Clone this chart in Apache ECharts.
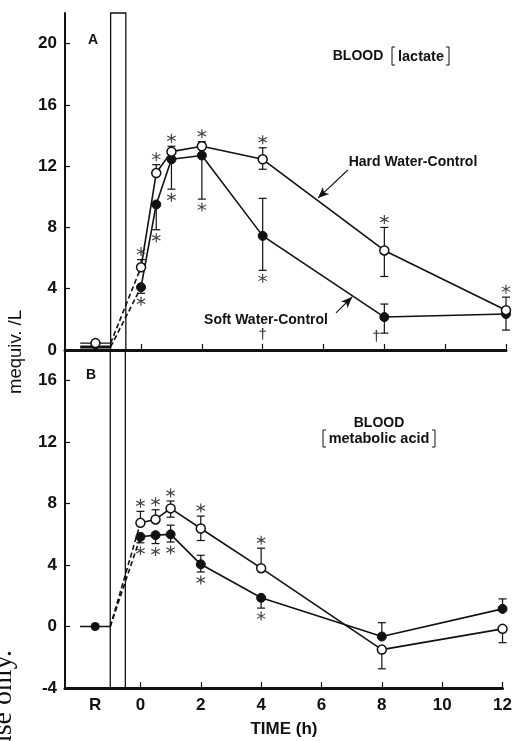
<!DOCTYPE html>
<html>
<head>
<meta charset="utf-8">
<script src="https://cdn.jsdelivr.net/npm/echarts@6/dist/echarts.min.js"></script>
<style>
  html, body { margin: 0; padding: 0; background: #fff; }
  #chart { width: 515px; height: 741px; }
</style>
</head>
<body>
<div id="chart"></div>
<script>
// Sampling times (h) after exposure
const times = [0, 0.5, 1, 2, 4, 8, 12];
const xTickValues = [0, 2, 4, 6, 8, 10, 12];
const xLabelValues = [-1.5, 0, 2, 4, 6, 8, 10, 12];
const restTime = -1.5;          // "R" resting sample
const restLineStart = -2;
const exposureStart = -1;
const exposureEnd = -0.5;
const yTicksA = [0, 4, 8, 12, 16, 20];
const yTicksB = [-4, 0, 4, 8, 12, 16];

// A: blood lactate (mequiv/L)
const hardLactateRest = 0.45;
const softLactateRest = 0.2;
const hardLactate = [5.4, 11.55, 12.95, 13.3, 12.45, 6.5, 2.6];
const softLactate = [4.1, 9.5, 12.45, 12.7, 7.45, 2.15, 2.35];
const hardLactateHigh = [5.9, 12.1, 13.3, 13.6, 13.2, 8.0, 3.45];
const hardLactateLow = [null, null, null, null, 11.8, 4.8, null];
const softLactateHigh = [null, null, null, null, 9.9, 3.0, null];
const softLactateLow = [3.7, 7.85, 10.5, 9.85, 5.2, 1.1, 1.3];
const hardLactateStar = [1, 1, 1, 1, 1, 1, 1];
const softLactateStar = [1, 1, 1, 1, 1, 0, 0];
const softLactateDagger = [0, 0, 0, 0, 1, 1, 0];

// B: blood metabolic acid (mequiv/L)
const hardAcidRest = 0;
const softAcidRest = 0;
const hardAcid = [6.75, 6.97, 7.69, 6.38, 3.8, -1.5, -0.15];
const softAcid = [5.84, 5.95, 6.0, 4.05, 1.87, -0.65, 1.15];
const hardAcidHigh = [7.5, 7.6, 8.17, 7.19, 5.1, null, null];
const hardAcidLow = [null, null, 7.12, 5.6, null, -2.75, -1.05];
const softAcidHigh = [null, null, 6.6, 4.64, null, 0.25, 1.8];
const softAcidLow = [5.45, 5.4, 5.5, 3.55, 1.2, null, null];
const hardAcidStar = [1, 1, 1, 1, 1, 0, 0];
const softAcidStar = [1, 1, 1, 1, 1, 0, 0];

const FONT = "'Liberation Sans', Arial, Helvetica, sans-serif";
const INK = '#111';
const ASTERISK = 'path://M8.8,0L11.2,0L11.2,20L8.8,20Z M1.94,3.96L19.26,13.96L18.06,16.04L0.74,6.04Z M0.74,13.96L18.06,3.96L19.26,6.04L1.94,16.04Z';

function xAxisFor(gridIndex, showLabels) {
  return {
    type: 'value', gridIndex, min: -2.5, max: 12,
    axisLine: { show: true, onZero: false, lineStyle: { color: INK, width: 3 } },
    axisTick: { show: true, inside: true, length: 6, customValues: xTickValues,
      lineStyle: { color: INK, width: 1.2 } },
    axisLabel: { show: showLabels, customValues: xLabelValues,
      formatter: v => (v === restTime ? 'R' : String(v)),
      color: INK, fontFamily: FONT, fontWeight: 'bold', fontSize: 17, margin: 9 },
    splitLine: { show: false }
  };
}

function yAxisFor(gridIndex, min, max, ticks) {
  return {
    type: 'value', gridIndex, min, max,
    axisLine: { show: true, onZero: false, lineStyle: { color: INK, width: 2 } },
    axisTick: { show: true, inside: true, length: 5, customValues: ticks,
      lineStyle: { color: INK, width: 1.2 } },
    axisLabel: { customValues: ticks, color: INK, fontFamily: FONT,
      fontWeight: 'bold', fontSize: 17, margin: 8 },
    splitLine: { show: false }
  };
}

function mainLine(gi, values, open) {
  return {
    type: 'line', xAxisIndex: gi, yAxisIndex: gi, z: 5, silent: true,
    data: times.map((t, i) => [t, values[i]]),
    symbol: 'circle', symbolSize: 9, showAllSymbol: true,
    lineStyle: { color: INK, width: 1.6 },
    itemStyle: open ? { color: '#fff', borderColor: INK, borderWidth: 1.5 }
                    : { color: INK, borderColor: INK, borderWidth: 1 }
  };
}

function restLine(gi, rest, open, width, size) {
  return {
    type: 'line', xAxisIndex: gi, yAxisIndex: gi, z: 4, silent: true,
    data: [
      { value: [restLineStart, rest], symbol: 'none' },
      { value: [restTime, rest] },
      { value: [exposureStart, rest], symbol: 'none' }
    ],
    symbol: 'circle', symbolSize: size,
    lineStyle: { color: INK, width },
    itemStyle: open ? { color: '#fff', borderColor: INK, borderWidth: 1.5 }
                    : { color: INK }
  };
}

function dashedLink(gi, rest, first) {
  return {
    type: 'line', xAxisIndex: gi, yAxisIndex: gi, z: 3, silent: true,
    data: [[exposureStart, rest], [times[0], first]],
    symbol: 'none',
    lineStyle: { color: INK, width: 1.6, type: [5, 3] }
  };
}

function errorBars(gi, values, lows, highs) {
  return {
    type: 'custom', xAxisIndex: gi, yAxisIndex: gi, z: 2, silent: true,
    data: times.map((t, i) => [t, values[i]]),
    renderItem(params, api) {
      const i = params.dataIndex;
      const t = api.value(0);
      const p = api.coord([t, api.value(1)]);
      const style = { stroke: INK, lineWidth: 1.2 };
      const children = [];
      [lows[i], highs[i]].forEach(end => {
        if (end == null) return;
        const q = api.coord([t, end]);
        children.push({ type: 'line', shape: { x1: p[0], y1: p[1], x2: q[0], y2: q[1] }, style });
        children.push({ type: 'line', shape: { x1: q[0] - 4, y1: q[1], x2: q[0] + 4, y2: q[1] }, style });
      });
      return { type: 'group', children };
    }
  };
}

function stars(gi, values, ends, flags, dir) {
  const data = [];
  times.forEach((t, i) => {
    if (!flags[i]) return;
    const v = ends[i] == null ? values[i] : ends[i];
    data.push({ value: [t, v], symbolOffset: [0, dir * 8] });
  });
  return {
    type: 'scatter', xAxisIndex: gi, yAxisIndex: gi, z: 6, silent: true,
    symbol: ASTERISK, symbolSize: 9, itemStyle: { color: INK }, data
  };
}

function daggers(gi, flags) {
  const offsets = { 4: [0, -15], 8: [-8, -13] };
  const data = [];
  times.forEach((t, i) => {
    if (!flags[i]) return;
    data.push({ value: [t, 0], label: { offset: offsets[t] || [0, -14] } });
  });
  return {
    type: 'scatter', xAxisIndex: gi, yAxisIndex: gi, z: 6, silent: true,
    symbolSize: 0, data,
    label: { show: true, formatter: '\u2020', position: 'inside', color: INK,
      fontFamily: FONT, fontWeight: 'bold', fontSize: 14 }
  };
}

function exposureBox(gi, yMin, yMax) {
  return {
    type: 'line', xAxisIndex: gi, yAxisIndex: gi, data: [], silent: true,
    markArea: {
      silent: true,
      itemStyle: { color: 'rgba(0,0,0,0)', borderColor: INK, borderWidth: 1.3 },
      data: [[{ xAxis: exposureStart, yAxis: yMin }, { xAxis: exposureEnd, yAxis: yMax }]]
    }
  };
}

function arrow(gi, from, to) {
  return {
    type: 'line', xAxisIndex: gi, yAxisIndex: gi, data: [], silent: true,
    markLine: {
      silent: true, animation: false,
      symbol: ['none', 'arrow'], symbolSize: [7, 11],
      label: { show: false },
      lineStyle: { color: INK, width: 1.1, type: 'solid' },
      data: [[{ coord: from }, { coord: to }]]
    }
  };
}

const textStyle = (size, weight) => ({ fontFamily: FONT, fontSize: size, fontWeight: weight, fill: INK });

function label(text, x, y, size, weight, extra) {
  return Object.assign({ type: 'text', x, y, silent: true,
    style: Object.assign({ text, align: 'center', verticalAlign: 'middle' }, textStyle(size, weight)) }, extra || {});
}

function bracket(x1, x2, y1, y2) {
  const s = { stroke: INK, lineWidth: 1, fill: null };
  return [
    { type: 'polyline', silent: true, shape: { points: [[x1 + 3, y1], [x1, y1], [x1, y2], [x1 + 3, y2]] }, style: s },
    { type: 'polyline', silent: true, shape: { points: [[x2 - 3, y1], [x2, y1], [x2, y2], [x2 - 3, y2]] }, style: s }
  ];
}

const option = {
  animation: false,
  backgroundColor: '#fff',
  grid: [
    { left: 65, top: 13, width: 441, height: 337 },
    { left: 65, top: 350, width: 441, height: 338 }
  ],
  xAxis: [xAxisFor(0, false), xAxisFor(1, true)],
  yAxis: [yAxisFor(0, 0, 22, yTicksA), yAxisFor(1, -4, 18, yTicksB)],
  series: [
    exposureBox(0, 0, 22),
    exposureBox(1, -4, 18),

    errorBars(0, hardLactate, hardLactateLow, hardLactateHigh),
    errorBars(0, softLactate, softLactateLow, softLactateHigh),
    dashedLink(0, hardLactateRest, hardLactate[0]),
    dashedLink(0, softLactateRest, softLactate[0]),
    restLine(0, softLactateRest, false, 3, 6),
    restLine(0, hardLactateRest, true, 1.2, 9),
    mainLine(0, softLactate, false),
    mainLine(0, hardLactate, true),
    stars(0, hardLactate, hardLactateHigh, hardLactateStar, -1),
    stars(0, softLactate, softLactateLow, softLactateStar, 1),
    daggers(0, softLactateDagger),
    arrow(0, [6.80, 11.75], [5.82, 9.92]),
    arrow(0, [6.41, 2.42], [6.94, 3.46]),

    errorBars(1, hardAcid, hardAcidLow, hardAcidHigh),
    errorBars(1, softAcid, softAcidLow, softAcidHigh),
    dashedLink(1, hardAcidRest, hardAcid[0]),
    dashedLink(1, softAcidRest, softAcid[0]),
    restLine(1, softAcidRest, false, 1.5, 9),
    mainLine(1, hardAcid, true),
    mainLine(1, softAcid, false),
    stars(1, hardAcid, hardAcidHigh, hardAcidStar, -1),
    stars(1, softAcid, softAcidLow, softAcidStar, 1)
  ],
  graphic: [
    label('A', 93, 40, 14, 'bold'),
    label('B', 91, 375, 14, 'bold'),
    label('BLOOD', 358, 56, 14, 'bold'),
    label('lactate', 421, 57, 14.5, 'bold'),
    ...bracket(392, 449, 47, 65),
    label('BLOOD', 379, 423, 14, 'bold'),
    label('metabolic acid', 379, 439, 14.5, 'bold'),
    ...bracket(323, 435, 430, 447),
    label('Hard Water-Control', 413, 162, 14, 'bold'),
    label('Soft Water-Control', 266, 320, 14, 'bold'),
    label('mequiv. /L', 16, 352, 18.5, 'normal', { rotation: Math.PI / 2 }),
    label('TIME (h)', 284, 729, 17, 'bold'),
    { type: 'text', x: 4, y: 650, rotation: Math.PI / 2, silent: true,
      style: { text: 'For personal use only.', align: 'right', verticalAlign: 'middle',
        fontFamily: "'Liberation Serif', 'DejaVu Serif', serif", fontSize: 28, fill: INK } }
  ]
};

const chart = echarts.init(document.getElementById('chart'));
chart.setOption(option);
</script>
</body>
</html>
